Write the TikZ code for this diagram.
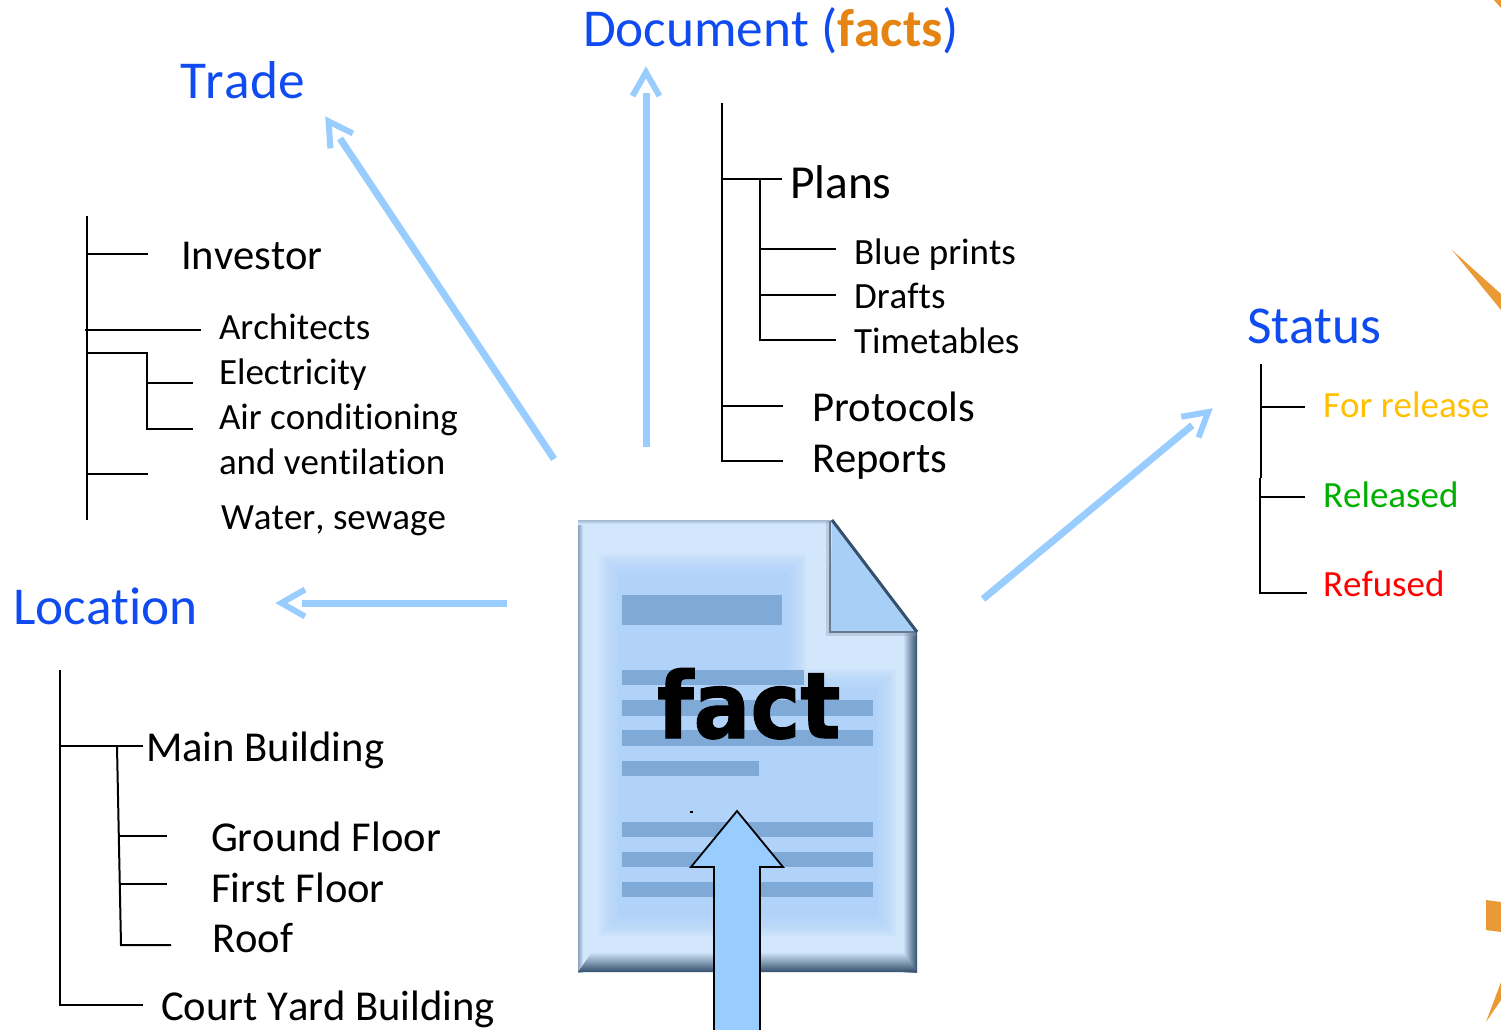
\documentclass[tikz,border=0pt]{standalone}
\usepackage{fontspec}
\setmainfont[Ligatures=NoCommon,Kerning=Off]{Carlito}
\newfontfamily\factfont[FakeStretch=.915,FakeBold=1.2]{DejaVu Sans Bold}
\usetikzlibrary{calc}
\definecolor{headblue}{HTML}{0F4BF0}
\definecolor{factorange}{HTML}{E58412}
\definecolor{arrowblue}{HTML}{99CCFF}
\definecolor{pagelight}{HTML}{D2E6FC}
\definecolor{pagemid}{HTML}{ADD2F9}
\definecolor{foldblue}{HTML}{A8D0F7}
\definecolor{barblue}{HTML}{7FA9D6}
\definecolor{edgedark}{HTML}{34506C}
\definecolor{decoorange}{HTML}{E99A35}
\newcommand{\flowarrow}[2]{%
  \draw[flowline] (#1) -- ($(#2)!27pt!(#1)$);
  \draw[flowline,line width=6pt,miter limit=10] ($(#2)!30pt!(#1)!13.5pt!90:(#2)$) -- ($(#2)!6.4pt!(#1)$) -- ($(#2)!30pt!(#1)!13.5pt!-90:(#2)$);}
\tikzset{
  lab/.style={anchor=base west,inner sep=0pt,outer sep=0pt,font=\fontsize{#1}{#1}\selectfont},
  head/.style={lab=#1,text=headblue},
  tree/.style={draw=black,line width=2pt},
  flowline/.style={draw=arrowblue,line width=7pt},
  bar/.style={fill=barblue,draw=none},
  deco/.style={fill=decoorange,draw=none}
}
\begin{document}
\begin{tikzpicture}[x=1pt,y=-1pt]
\useasboundingbox (0,0) rectangle (1501,1030);
% decorations
\fill[deco] (1452,250) -- (1501,294) -- (1501,310) -- cycle;
\fill[deco] (1486,900) -- (1501,902) -- (1501,932) -- (1486,930) -- cycle;
\fill[deco] (1486,1022) -- (1501,982) -- (1501,1000) -- cycle;
\fill[deco] (1494,0) -- (1501,0) -- (1501,8) -- cycle;
% page
\fill[pagelight] (578,520) -- (832,520) -- (917,632) -- (917,972) -- (578,972) -- cycle;
\foreach \i in {0,2,...,22}{
  \fill[pagemid,opacity=.13] (599+\i,554+\i) -- (806-\i,554+\i) -- (806-\i,669+\i) -- (896-\i,669+\i) -- (896-\i,936-\i) -- (599+\i,936-\i) -- cycle;}
\shade[left color=edgedark!45!pagelight,right color=pagelight] (578,520) rectangle (583,972);
\shade[top color=edgedark!30!pagelight,bottom color=pagelight] (578,520) rectangle (832,524);
\shade[left color=pagelight,middle color=edgedark!20!pagelight,right color=edgedark] (903,632) rectangle (917,972);
\shade[top color=pagelight,middle color=edgedark!20!pagelight,bottom color=edgedark] (592,952) -- (903,952) -- (917,972) -- (578,972) -- cycle;
% fold
\fill[foldblue] (832,520) -- (917,632) -- (830,632) -- cycle;
\draw[edgedark!55!white,line width=4pt,opacity=.35] (828,521) -- (828,634) -- (916,634);
\draw[edgedark!75!white,line width=2pt] (830,521) -- (830,632) -- (916,632);
\draw[edgedark,line width=3pt] (832,520) -- (917,632);
% bars
\fill[bar] (622,595) rectangle (782,625);
\fill[bar] (622,670) rectangle (804,685);
\fill[bar] (622,700) rectangle (873,716);
\fill[bar] (622,730) rectangle (873,746);
\fill[bar] (622,761) rectangle (759,776);
\fill[bar] (622,822) rectangle (873,837);
\fill[bar] (622,852) rectangle (873,867);
\fill[bar] (622,882) rectangle (873,897);
\node[anchor=base west,inner sep=0pt,outer sep=0pt] (fact) at (657,738) {\factfont\fontsize{92}{92}\selectfont fact};
\fill[black] (690,810.5) rectangle (692.5,812.5);
% entry arrow
\draw[fill=arrowblue,draw=black,line width=1.8pt] (714,1032) -- (714,867) -- (691,867) -- (737,811) -- (783,867) -- (760,867) -- (760,1032);
% flow arrows
\coordinate (hub1) at (554,459); \coordinate (tTrade) at (325,116);
\coordinate (hub2) at (646,447); \coordinate (tDoc) at (646,66);
\coordinate (hub3) at (507,603); \coordinate (tLoc) at (275,603);
\coordinate (hub4) at (983,599); \coordinate (tStat) at (1213,408);
\flowarrow{hub1}{tTrade}
\flowarrow{hub2}{tDoc}
\flowarrow{hub3}{tLoc}
\flowarrow{hub4}{tStat}
% headings
\node[head=53.3] (trade) at (180,99) {Trade};
\node[head=53.3] (document) at (583,47) {Document (\textcolor{factorange}{\textbf{facts}})};
\node[head=53.3] (location) at (13,624) {Location};
\node[head=53.3] (status) at (1247,343) {Status};
% trade tree
\node[lab=42.6] (investor) at (181,269) {Investor};
\node[lab=37] (arch) at (219,339) {Architects};
\node[lab=37] (elec) at (219,384) {Electricity};
\node[lab=37] (air) at (219,429.5) {Air conditioning};
\node[lab=37] (vent) at (219,474.5) {and ventilation};
\node[lab=37] (water) at (221,529.5) {Water, sewage};
\coordinate (a0) at (87,216); \coordinate (a1) at (87,520);
\coordinate (a2) at (87,254); \coordinate (a3) at (148,254);
\coordinate (a4) at (85,330); \coordinate (a5) at (201,330);
\coordinate (a6) at (87,353); \coordinate (a7) at (147,353); \coordinate (a8) at (147,429); \coordinate (a9) at (193,429);
\coordinate (a10) at (147,383); \coordinate (a11) at (193,383);
\coordinate (a12) at (87,474); \coordinate (a13) at (148,474);
\draw[tree] (a0) -- (a1);
\draw[tree] (a2) -- (a3);
\draw[tree] (a4) -- (a5);
\draw[tree] (a6) -- (a7) -- (a8) -- (a9);
\draw[tree] (a10) -- (a11);
\draw[tree] (a12) -- (a13);
% document tree
\node[lab=47.4] (plans) at (790,198.5) {Plans};
\node[lab=37] (blue) at (854,264) {Blue prints};
\node[lab=37] (drafts) at (854,308) {Drafts};
\node[lab=37] (time) at (854,353) {Timetables};
\node[lab=42.6] (proto) at (812,421) {Protocols};
\node[lab=42.6] (reports) at (812,472) {Reports};
\coordinate (d0) at (722,103); \coordinate (d1) at (722,461); \coordinate (d2) at (783,461);
\coordinate (d3) at (722,179); \coordinate (d4) at (782,179);
\coordinate (d5) at (760,179); \coordinate (d6) at (760,340); \coordinate (d7) at (836,340);
\coordinate (d8) at (760,249); \coordinate (d9) at (836,249);
\coordinate (d10) at (760,295); \coordinate (d11) at (836,295);
\coordinate (d12) at (722,406); \coordinate (d13) at (783,406);
\draw[tree] (d0) -- (d1) -- (d2);
\draw[tree] (d3) -- (d4);
\draw[tree] (d5) -- (d6) -- (d7);
\draw[tree] (d8) -- (d9);
\draw[tree] (d10) -- (d11);
\draw[tree] (d12) -- (d13);
% status tree
\node[lab=37,text={rgb,255:red,255;green,192;blue,0}] (rel1) at (1323,417) {For release};
\node[lab=37,text={rgb,255:red,0;green,176;blue,0}] (rel2) at (1323,507) {Released};
\node[lab=37,text=red] (rel3) at (1323,596.5) {Refused};
\coordinate (s0) at (1261,364); \coordinate (s0b) at (1261,478);
\coordinate (s1a) at (1259.7,478); \coordinate (s1) at (1259.7,593); \coordinate (s2) at (1307,593);
\coordinate (s3) at (1261,407); \coordinate (s4) at (1305,407);
\coordinate (s5) at (1260,497); \coordinate (s6) at (1305,497);
\draw[tree] (s0) -- (s0b);
\draw[tree] (s1a) -- (s1) -- (s2);
\draw[tree] (s3) -- (s4);
\draw[tree] (s5) -- (s6);
% location tree
\node[lab=42.6] (main) at (146,761) {Main Building};
\node[lab=42.6] (ground) at (211,851) {Ground Floor};
\node[lab=42.6] (first) at (211,902) {First Floor};
\node[lab=42.6] (roof) at (212,952) {Roof};
\node[lab=42.6] (court) at (161,1020) {Court Yard Building};
\coordinate (l0) at (60,670); \coordinate (l1) at (60,1005); \coordinate (l2) at (143,1005);
\coordinate (l3) at (60,746); \coordinate (l4) at (143,746);
\coordinate (l5) at (117,746); \coordinate (l6) at (121,945); \coordinate (l7) at (171,945);
\coordinate (l8) at (119,836); \coordinate (l9) at (167,836);
\coordinate (l10) at (120,884); \coordinate (l11) at (167,884);
\draw[tree] (l0) -- (l1) -- (l2);
\draw[tree] (l3) -- (l4);
\draw[tree] (l5) -- (l6) -- (l7);
\draw[tree] (l8) -- (l9);
\draw[tree] (l10) -- (l11);
\end{tikzpicture}
\end{document}
